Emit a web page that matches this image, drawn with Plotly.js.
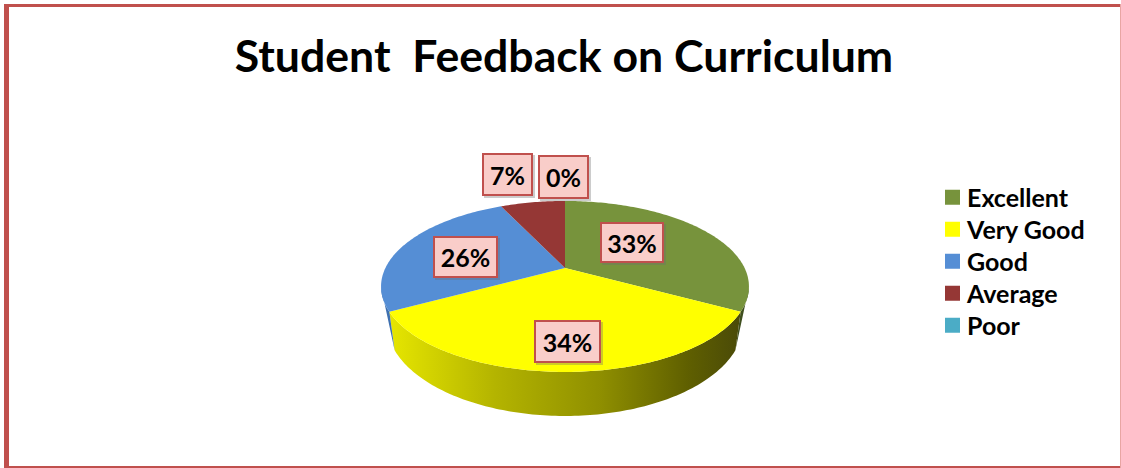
<!DOCTYPE html>
<html>
<head>
<meta charset="utf-8">
<script src="https://cdn.plot.ly/plotly-3.0.1.min.js"></script>
<style>html,body{margin:0;padding:0;background:#fff}</style>
</head>
<body>
<div id="chart" style="width:1121px;height:468px"></div>
<script>
// Data
const categories = ["Excellent", "Very Good", "Good", "Average", "Poor"];
const percents = [33, 34, 26, 7, 0];
const topColors = ["#77933C", "#FFFF00", "#558ED5", "#953735", "#4BACC6"];
const wallColors = ["#3F4F1E", "#A8A800", "#3E70B0", "#6B2725", "#31859C"];

// Perspective projection of the tilted disc onto the plot axes
const CX = 565, CY = 268, AX = 179.6, BY = 81.5, P = 0.216, DEPTH = 34.5, SHRINK = 0.97;
const SIL_RIGHT = 103, SIL_LEFT = 257; // where the side wall's outline leaves the top rim
function rim(deg, bottom) {
  const a = deg * Math.PI / 180, u = Math.sin(a), v = -Math.cos(a), w = 1 - P * v;
  return bottom
    ? [CX + SHRINK * AX * u / w, CY + BY * v / w + DEPTH / w]
    : [CX + AX * u / w, CY + BY * v / w];
}
function arc(a0, a1, bottom) {
  const pts = [], n = Math.max(1, Math.ceil(Math.abs(a1 - a0)));
  for (let i = 0; i <= n; i++) pts.push(rim(a0 + (a1 - a0) * i / n, bottom));
  return pts;
}
const total = percents.reduce((s, v) => s + v, 0);
let start = 0;
const walls = [], tops = [];
categories.forEach((name, i) => {
  const sweep = percents[i] / total * 360, end = start + sweep;
  if (sweep > 0) {
    const a0 = Math.max(start, SIL_RIGHT), a1 = Math.min(end, SIL_LEFT);
    let wall = null;
    if (a0 < a1) {
      if (a0 === start && a1 === end) wall = arc(a0, a1, false).concat(arc(a1, a0, true));
      else if (a1 === end) wall = arc(a0, a1, false).concat([rim(a1, true)]);
      else wall = arc(a0, a1, false).concat([rim(a0, true)]);
    }
    if (wall) {
      const w = {
        x: wall.map(p => p[0]), y: wall.map(p => p[1]),
        type: "scatter", mode: "none", fill: "toself", fillcolor: wallColors[i],
        showlegend: false, hoverinfo: "skip"
      };
      if (name === "Very Good") {
        w.fillgradient = {
          type: "horizontal",
          colorscale: [[0, "#E6E600"], [0.3, "#B4B400"], [0.6, "#8F8F00"], [0.85, "#5F5F00"], [1, "#4A4A08"]]
        };
      }
      walls.push(w);
    }
    const top = [[CX, CY]].concat(arc(start, end, false), [[CX, CY]]);
    tops.push({
      x: top.map(p => p[0]), y: top.map(p => p[1]),
      type: "scatter", mode: "none", fill: "toself", fillcolor: topColors[i],
      showlegend: false, hoverinfo: "skip"
    });
  }
  start = end;
});
const legendTraces = categories.map((name, i) => ({
  x: [null], y: [null], name: name, type: "scatter", mode: "markers",
  marker: {symbol: "square", size: 15, color: topColors[i]}, hoverinfo: "skip"
}));

// Data label boxes: [left, top, right, bottom] in axis units
const labelBoxes = [[600, 222, 663, 262], [534, 320, 600, 362], [433, 236, 497, 277], [482, 153, 532, 195], [538, 155, 588, 198]];
const annotations = [];
const shapes = [];
labelBoxes.forEach((b, i) => {
  shapes.push({type: "rect", xref: "x", yref: "y", x0: b[0] + 2, x1: b[2] + 3, y0: b[1] + 2, y1: b[3] + 3,
    fillcolor: "rgba(110,110,110,0.35)", line: {width: 0}, layer: "above"});
  annotations.push({
    xref: "x", yref: "y", x: (b[0] + b[2]) / 2, y: (b[1] + b[3]) / 2, xanchor: "center", yanchor: "middle",
    text: "<b>" + percents[i] + "%</b>", showarrow: false,
    width: b[2] - b[0] - 3, height: b[3] - b[1] - 3, borderpad: 0, borderwidth: 2,
    bgcolor: "#F9CDC9", bordercolor: "#C0504D",
    font: {family: "Lato, sans-serif", size: 25, color: "#000"}
  });
});
// Page frame
[[4, 4, 1121, 7], [4, 4, 9, 468], [4, 466, 1121, 468], [1120, 4, 1121, 468]].forEach((r, i) => {
  shapes.push({type: "rect", xref: "x", yref: "y", x0: r[0], y0: r[1], x1: r[2], y1: r[3],
    fillcolor: i === 3 ? "#E8A5A3" : "#C0504D", line: {width: 0}, layer: "above"});
});

const layout = {
  width: 1121, height: 468, margin: {l: 0, r: 0, t: 0, b: 0},
  paper_bgcolor: "#fff", plot_bgcolor: "#fff",
  title: {text: "<b>Student\u00A0 Feedback on Curriculum</b>", x: 564 / 1121, xanchor: "center",
    y: 1 - 56 / 468, yanchor: "middle", font: {family: "Lato, sans-serif", size: 44.6, color: "#000"}},
  xaxis: {range: [0, 1121], visible: false, fixedrange: true},
  yaxis: {range: [468, 0], visible: false, fixedrange: true},
  legend: {x: 927 / 1121, y: 1 - 174.5 / 468, xanchor: "left", yanchor: "top", bgcolor: "rgba(0,0,0,0)",
    font: {family: "Lato, sans-serif", size: 25, color: "#000", weight: "bold"}, itemclick: false, itemdoubleclick: false},
  shapes: shapes, annotations: annotations, hovermode: false
};
Plotly.newPlot("chart", walls.concat(tops, legendTraces), layout, {displayModeBar: false, staticPlot: true}).then(gd => {
  // Tighten the legend to the reference's 32px rows and closer swatch-to-text gap
  const rows = gd.querySelectorAll(".legend .traces");
  const m0 = /translate\(([^,]+),\s*([^)]+)\)/.exec(rows[0].getAttribute("transform"));
  const y0 = parseFloat(m0[2]);
  rows.forEach((r, i) => {
    r.setAttribute("transform", "translate(" + m0[1] + "," + (y0 + 32 * i) + ")");
    const pts = r.querySelector(".legendpoints");
    if (pts) pts.setAttribute("transform", "translate(5.5,0)");
  });
});
</script>
</body>
</html>
